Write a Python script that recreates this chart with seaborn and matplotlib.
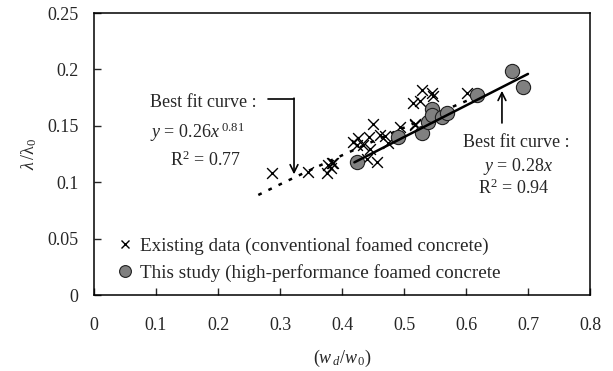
import numpy as np
import pandas as pd
import matplotlib
matplotlib.use("Agg")
import matplotlib.pyplot as plt
from matplotlib.lines import Line2D
import seaborn as sns

# ---- data ----
existing_x = [0.287, 0.345, 0.376, 0.377, 0.383, 0.384, 0.386, 0.418, 0.424, 0.426,
              0.434, 0.440, 0.444, 0.445, 0.450, 0.456, 0.461, 0.469, 0.474, 0.494,
              0.515, 0.518, 0.518, 0.526, 0.529, 0.545, 0.547, 0.601]
existing_y = [0.108, 0.109, 0.108, 0.115, 0.113, 0.117, 0.117, 0.136, 0.133, 0.139,
              0.133, 0.121, 0.140, 0.129, 0.152, 0.118, 0.142, 0.141, 0.135, 0.149,
              0.170, 0.151, 0.152, 0.172, 0.182, 0.179, 0.176, 0.179]

study_x = [0.424, 0.490, 0.529, 0.539, 0.545, 0.545, 0.561, 0.569, 0.617, 0.674, 0.692]
study_y = [0.118, 0.140, 0.144, 0.153, 0.165, 0.160, 0.158, 0.161, 0.177, 0.199, 0.184]

# best fit curves (coefficients as printed on the chart)
power_a, power_b = 0.26, 0.81
power_range = [0.265, 0.62]
linear_a = 0.28
linear_range = [0.42, 0.70]

x_ticks = [0, 0.1, 0.2, 0.3, 0.4, 0.5, 0.6, 0.7, 0.8]
y_ticks = [0, 0.05, 0.1, 0.15, 0.2, 0.25]
x_tick_labels = ["0", "0.1", "0.2", "0.3", "0.4", "0.5", "0.6", "0.7", "0.8"]
y_tick_labels = ["0", "0.05", "0.1", "0.15", "0.2", "0.25"]

label_existing = "Existing data (conventional foamed concrete)"
label_study = "This study (high-performance foamed concrete"

# ---- style ----
sns.set_style("white")
plt.rcParams["font.family"] = ["Liberation Serif", "DejaVu Serif"]
plt.rcParams["mathtext.fontset"] = "custom"
plt.rcParams["mathtext.rm"] = "Liberation Serif"
plt.rcParams["mathtext.it"] = "Liberation Serif:italic"
plt.rcParams["mathtext.bf"] = "Liberation Serif:bold"
FS = 13

fig = plt.figure(figsize=(6.13, 3.71), dpi=100)
ax = fig.add_axes([94 / 613, (371 - 295) / 371, (590 - 94) / 613, (295 - 13) / 371])

df_ex = pd.DataFrame({"x": existing_x, "y": existing_y})
df_st = pd.DataFrame({"x": study_x, "y": study_y})

# fit curves
px = np.linspace(power_range[0], power_range[1], 60)
df_pow = pd.DataFrame({"x": px, "y": power_a * px ** power_b})
lx = np.array(linear_range)
df_lin = pd.DataFrame({"x": lx, "y": linear_a * lx})

sns.lineplot(data=df_pow, x="x", y="y", ax=ax, color="black", lw=1.8,
             linestyle=(0, (1.5, 3.0)), zorder=2)
sns.scatterplot(data=df_ex, x="x", y="y", ax=ax, marker="x", color="black",
                s=60, linewidth=1.0, zorder=3)
sns.scatterplot(data=df_st, x="x", y="y", ax=ax, marker="o", color="#808080",
                edgecolor="#202020", linewidth=0.8, s=105, zorder=4)
sns.lineplot(data=df_lin, x="x", y="y", ax=ax, color="black", lw=1.8, zorder=5)

ax.set_xlim(0, 0.8)
ax.set_ylim(0, 0.25)
ax.set_xticks(x_ticks)
ax.set_xticklabels(x_tick_labels)
ax.set_yticks(y_ticks)
ax.set_yticklabels(y_tick_labels)
ax.tick_params(axis="x", direction="in", length=5, width=1, pad=16,
               labelsize=FS, bottom=True, top=False)
ax.tick_params(axis="y", direction="in", length=5, width=1, pad=11,
               labelsize=FS, left=True, right=False)
for sp in ax.spines.values():
    sp.set_color("black")
    sp.set_linewidth(1.1)

ax.set_xlabel(r"$(w_{\,d}/w_{\,0})$", fontsize=FS, labelpad=10)
ax.set_ylabel(r"$\lambda\,/\mathrm{\lambda}_0$", fontsize=FS, labelpad=6)

# annotations - left
ax.text(0.090, 0.171, "Best fit curve :", fontsize=FS, va="center", ha="left")
ax.text(0.090, 0.1445, r"$y$ = 0.26$x$$^{\ 0.81}$", fontsize=FS, va="center", ha="left")
ax.text(0.180, 0.1197, r"R$^{2}$ = 0.77", fontsize=FS, va="center", ha="center")
ax.plot([0.281, 0.3226], [0.1738, 0.1738], color="black", lw=1.2)
ax.annotate("", xy=(0.3226, 0.107), xytext=(0.3226, 0.1745),
            arrowprops=dict(arrowstyle="->", color="black", lw=1.2,
                            mutation_scale=14, shrinkA=0, shrinkB=0))

# annotations - right
ax.annotate("", xy=(0.658, 0.181), xytext=(0.658, 0.1525),
            arrowprops=dict(arrowstyle="->", color="black", lw=1.2,
                            mutation_scale=14, shrinkA=0, shrinkB=0))
ax.text(0.595, 0.1348, "Best fit curve :", fontsize=FS, va="center", ha="left")
ax.text(0.740, 0.1135, r"$y$ = 0.28$x$", fontsize=FS, va="center", ha="right")
ax.text(0.619, 0.0949, r"R$^{2}$ = 0.94", fontsize=FS, va="center", ha="left")

# legend
handles = [
    Line2D([], [], marker="x", color="black", linestyle="none", markersize=6, mew=1.0),
    Line2D([], [], marker="o", markerfacecolor="#808080", markeredgecolor="#202020",
           linestyle="none", markersize=8.5, mew=0.8),
]
leg = ax.legend(handles, [label_existing, label_study], loc="lower left",
                bbox_to_anchor=(0.02, 0.0), frameon=False, fontsize=13.8,
                handlelength=0.8, handletextpad=0.4, labelspacing=0.45,
                borderaxespad=0.3)

fig.savefig("out.png", dpi=100)
